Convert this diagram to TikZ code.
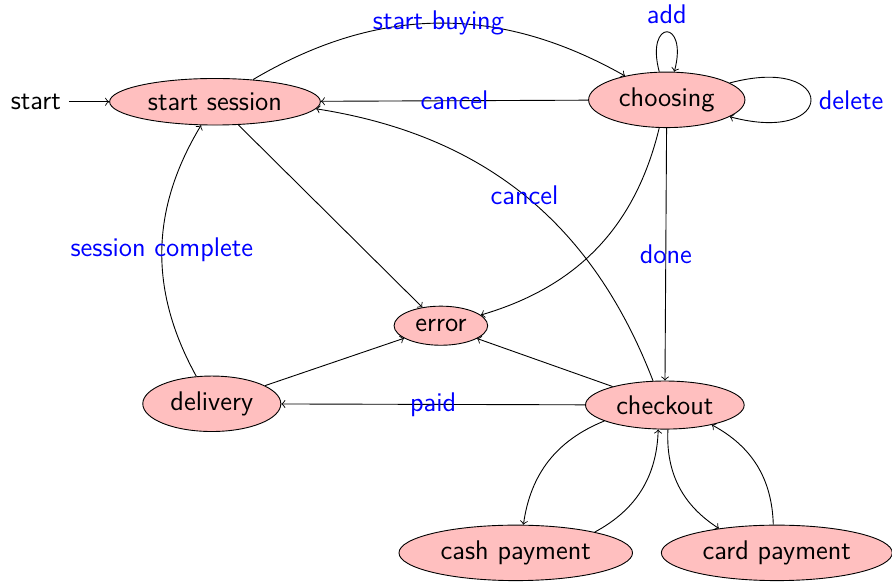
\documentclass[tikz,border=0pt]{standalone}
\usepackage{tikz}
\usetikzlibrary{
  positioning,
  shapes.geometric
}

\begin{document}
\begin{tikzpicture}[>=to,
    every node/.style={font=\sffamily\large},
    state/.style={ellipse, draw, fill=red!25},
    lbl/.style={text=blue}]
\useasboundingbox (0,0) rectangle (13.94,-9.09);
% states
\node [state] (session)  at (3.36,-1.59)  {start session};
\node [state] (choosing) at (10.42,-1.56) {choosing};
\node [state] (error)    at (6.89,-5.09)  {error};
\node [state] (delivery) at (3.31,-6.31)  {delivery};
\node [state] (checkout) at (10.39,-6.33) {checkout};
\node [state] (cash)     at (8.06,-8.64)  {cash payment};
\node [state] (card)     at (12.14,-8.64) {card payment};
\node [left=0.63cm of session] (start) {start};
% transitions
\draw [->] (start) -- (session);
\draw [->] (session) to [bend left=30] node [lbl] {start buying} (choosing);
\draw [->] (choosing) -- node [lbl] {cancel} (session);
\draw [->] (choosing) to [out=105, in=75, min distance=0.86cm] node [lbl, above] {add} (choosing);
\draw [->] (choosing) to [out=15, in=-15, min distance=1.75cm] node [lbl, right] {delete} (choosing);
\draw [->] (choosing) to [bend left=30] (error);
\draw [->] (choosing) -- node [lbl] {done} (checkout);
\draw [->] (session) -- (error);
\draw [->] (checkout) to [bend right=30] node [lbl] {cancel} (session);
\draw [->] (checkout) -- (error);
\draw [->] (checkout) -- node [lbl] {paid} (delivery);
\draw [->] (delivery) -- (error);
\draw [->] (delivery) to [bend left=30] node [lbl] {session complete} (session);
\draw [->] (checkout) to [bend right=30] (cash);
\draw [->] (cash) to [bend right=30] (checkout);
\draw [->] (checkout) to [bend right=30] (card);
\draw [->] (card) to [bend right=30] (checkout);
\end{tikzpicture}
\end{document}
